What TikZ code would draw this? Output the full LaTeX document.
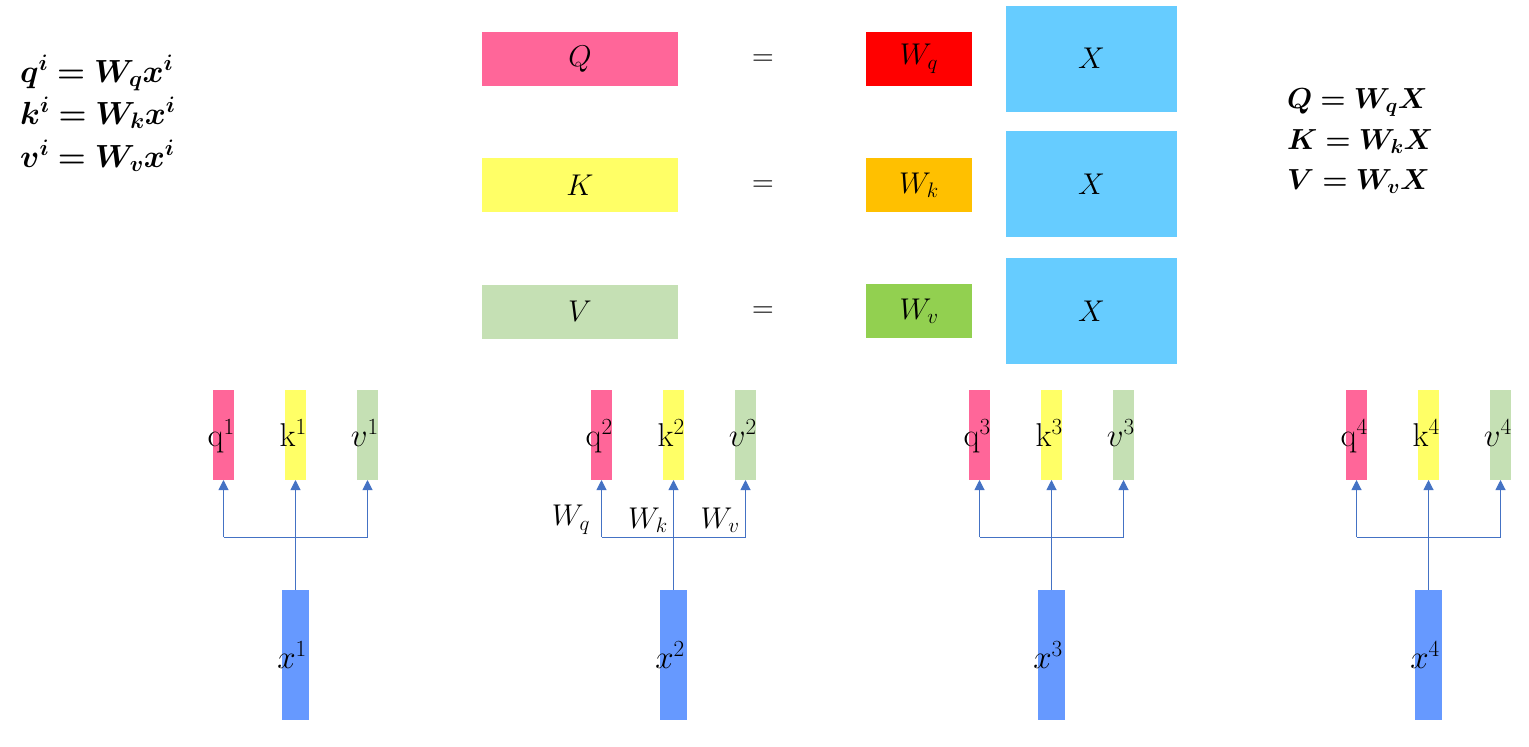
\RequirePackage{fix-cm}
\documentclass[tikz,border=0pt]{standalone}
\usepackage{amsmath,bm}
\usepackage{fontspec}
\usetikzlibrary{arrows.meta}
\definecolor{qpink}{HTML}{FF6699}
\definecolor{kyellow}{HTML}{FFFF66}
\definecolor{vgreen}{HTML}{C5E0B4}
\definecolor{wqred}{HTML}{FF0000}
\definecolor{wkorange}{HTML}{FFC000}
\definecolor{wvgreen}{HTML}{92D050}
\definecolor{xblue}{HTML}{66CCFF}
\definecolor{barblue}{HTML}{6699FF}
\definecolor{lineblue}{HTML}{4472C4}
\newcommand\labfont{\fontsize{30}{34}\selectfont}
\newcommand\barfont{\fontsize{33}{38}\selectfont}
\newcommand\eqfont{\fontsize{32}{36}\selectfont}
\newcommand\reqfont{\fontsize{29}{34}\selectfont}
\begin{document}
\begin{tikzpicture}[x=1pt,y=-1pt,
  mat/.style={inner sep=0pt, outer sep=0pt, font=\labfont},
  bigbox/.style={mat, minimum width=196, minimum height=54},
  wbox/.style={mat, minimum width=106, minimum height=54},
  xbox/.style={mat, fill=xblue, minimum width=171, minimum height=106},
  bar/.style={inner sep=0pt, outer sep=0pt, minimum width=21, minimum height=90},
  xbar/.style={inner sep=0pt, outer sep=0pt, minimum width=27, minimum height=130, fill=barblue},
  lab/.style={inner sep=0pt, font=\labfont},
  blab/.style={inner sep=0pt, font=\barfont},
  eqn/.style={inner sep=0pt, anchor=base west, font=\eqfont},
  reqn/.style={inner sep=0pt, anchor=base west, font=\reqfont},
  conn/.style={draw=lineblue, line width=1pt},
  arr/.style={conn, -{Triangle[width=10pt,length=10pt]}}]
\useasboundingbox (0,0) rectangle (1529,747);

% left equations
\node[eqn] (e1) at (20,82) {$\bm{q^i = W_q x^i}$};
\node[eqn] (e2) at (20,124) {$\bm{k^i = W_k x^i}$};
\node[eqn] (e3) at (20,167) {$\bm{v^i = W_v x^i}$};

% right equations
\node[reqn] (r1) at (1287,108) {$\bm{Q = W_q X}$};
\node[reqn] (r2) at (1287,149) {$\bm{K = W_k X}$};
\node[reqn] (r3) at (1287,189) {$\bm{V = W_v X}$};

% top matrices
\node[bigbox, fill=qpink] (Q) at (580,59) {$Q$};
\node[bigbox, fill=kyellow] (K) at (580,185) {$K$};
\node[bigbox, fill=vgreen] (V) at (580,311.5) {$V$};
\node[lab] (eq1) at (763,60) {$=$};
\node[lab] (eq2) at (763,186) {$=$};
\node[lab] (eq3) at (763,312.5) {$=$};
\node[wbox, fill=wqred] (Wq) at (919,59) {$W_q$};
\node[wbox, fill=wkorange] (Wk) at (919,185) {$W_k$};
\node[wbox, fill=wvgreen] (Wv) at (919,311) {$W_v$};
\node[xbox] (X1) at (1091.5,58.5) {$X$};
\node[xbox] (X2) at (1091.5,184) {$X$};
\node[xbox] (X3) at (1091.5,311) {$X$};

% bottom groups
\foreach \g/\qx in {1/213, 2/591, 3/969, 4/1346} {
  \node[bar, fill=qpink] (q\g) at (\qx+10.5,435) {};
  \node[bar, fill=kyellow] (k\g) at (\qx+82.5,435) {};
  \node[bar, fill=vgreen] (v\g) at (\qx+154.5,435) {};
  \node[xbar] (x\g) at (\qx+82.5,655) {};
  \node[blab, anchor=base east] (lq\g) at (\qx+22,446) {q$^{\g}$};
  \node[blab, anchor=base east] (lk\g) at (\qx+94,446) {k$^{\g}$};
  \node[blab, anchor=base east] (lv\g) at (\qx+166,446) {$v^{\g}$};
  \node[blab] (lx\g) at (\qx+79,655) {$x^{\g}$};
  \coordinate (j\g) at (\qx+82.5,537);
  \draw[arr] (x\g.north) -- (k\g.south);
  \draw[conn] (j\g -| q\g.south) -- (j\g -| v\g.south);
  \draw[arr] (j\g -| q\g.south) -- (q\g.south);
  \draw[arr] (j\g -| v\g.south) -- (v\g.south);
}

% weight labels of group 2
\node[lab] (wq2) at (571,520) {$W_q$};
\node[lab] (wk2) at (648,520) {$W_k$};
\node[lab] (wv2) at (720,520) {$W_v$};
\end{tikzpicture}
\end{document}
